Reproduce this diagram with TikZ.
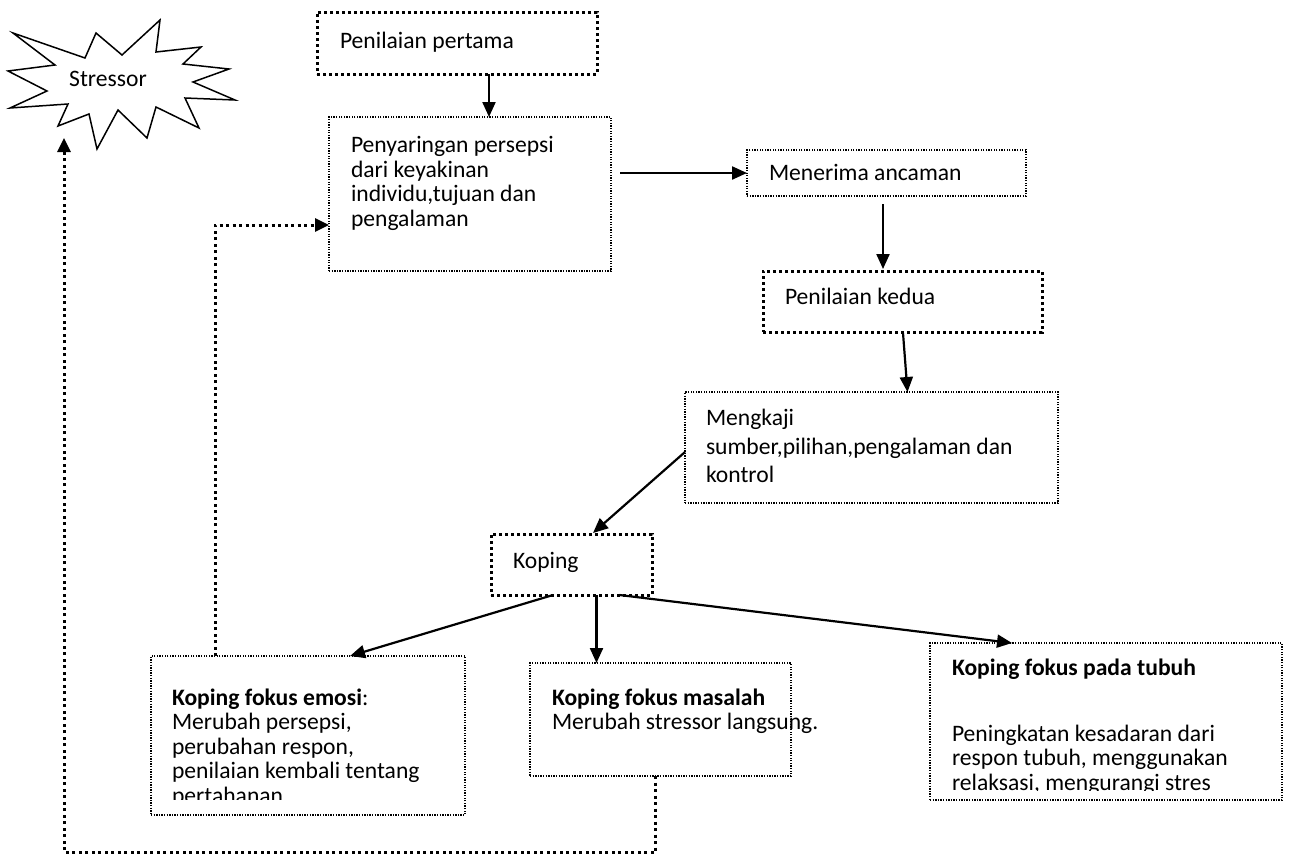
\documentclass[tikz,border=0pt]{standalone}
\usepackage{fontspec}
\setmainfont{Carlito}
\usetikzlibrary{arrows.meta,calc}
\newcommand\boxfont{\fontsize{23.6pt}{24.5pt}\selectfont}
\newcommand\firstline{\rule{0pt}{20pt}}
\begin{document}
\begin{tikzpicture}[x=1pt,y=-1pt,
  every node/.style={inner sep=0pt, outer sep=0pt},
  thinbox/.style={draw, line width=1.3pt, dash pattern=on 1.3pt off 1.3pt, anchor=north west},
  thickbox/.style={draw, line width=3pt, dash pattern=on 3.3pt off 2.7pt, anchor=north west},
  boxtext/.style={anchor=north west, align=left, font=\boxfont},
  link/.style={line width=2.2pt, -{Triangle[length=15pt,width=13pt]}},
  backlink/.style={line width=3pt, dash pattern=on 3pt off 3.5pt, -{Triangle[length=14pt,width=13pt]}},
]
\useasboundingbox (0,0) rectangle (1292,857);

% stressor burst
\draw[line width=1.5pt, line join=miter]
  (13,33) -- (85,58) -- (96,33) -- (122,55) -- (160,20) -- (156,52) -- (201,47)
  -- (183,64) -- (229,69) -- (193,82) -- (235,100) -- (185,98) -- (199,128)
  -- (156,107) -- (147,138) -- (118,110) -- (97,149) -- (89,114) -- (58,126)
  -- (68,104) -- (10,108) -- (47,91) -- (8,71) -- (55,65) -- cycle;
\node[font=\boxfont, anchor=base] (stressor) at (108,86) {Stressor};
\coordinate (stip) at (64,138);

% boxes
\node[thickbox, minimum width=280pt, minimum height=62pt]  (first)  at (317,12)  {};
\node[thinbox,  minimum width=282pt, minimum height=154pt] (filter) at (329,117) {};
\node[thinbox,  minimum width=279pt, minimum height=46pt]  (threat) at (747,150) {};
\node[thickbox, minimum width=279pt, minimum height=61pt]  (second) at (763,271) {};
\node[thinbox,  minimum width=373pt, minimum height=111pt] (assess) at (685,392) {};
\node[thickbox, minimum width=161pt, minimum height=61pt]  (coping) at (491,534) {};
\node[thinbox,  minimum width=314pt, minimum height=159pt] (emo)    at (151,656) {};
\node[thinbox,  minimum width=261pt, minimum height=113pt] (mas)    at (530,663) {};
\node[thinbox,  minimum width=352pt, minimum height=157pt] (body)   at (930,643) {};

% texts
\node[boxtext] (tfirst)  at (340,28.5)  {\firstline Penilaian pertama};
\node[boxtext] (tfilter) at (351,132.5) {\firstline Penyaringan persepsi\\dari keyakinan\\individu,tujuan dan\\pengalaman};
\node[boxtext] (tthreat) at (769,160.5) {\firstline Menerima ancaman};
\node[boxtext] (tsecond) at (785,284.5) {\firstline Penilaian kedua};
\node[boxtext, font=\fontsize{23.6pt}{28.5pt}\selectfont] (tassess) at (706,405.5)
  {\firstline Mengkaji\\sumber,pilihan,pengalaman dan\\kontrol};
\node[boxtext] (tcoping) at (513,548) {\firstline Koping};
\begin{scope}
  \clip (151,656) rectangle (465,799);
  \node[boxtext] (temo) at (172,685) {\firstline\textbf{Koping fokus emosi}:\\Merubah persepsi,\\perubahan respon,\\penilaian kembali tentang\\pertahanan.};
\end{scope}
\node[boxtext] (tmas) at (552,685) {\firstline\textbf{Koping fokus masalah}\\Merubah stressor langsung.};
\begin{scope}
  \clip (930,643) rectangle (1282,790);
  \node[boxtext] (tbody) at (952,655.5) {\firstline\textbf{Koping fokus pada tubuh}\\[41pt]Peningkatan kesadaran dari\\respon tubuh, menggunakan\\relaksasi, mengurangi stres};
\end{scope}

% flow arrows
\draw[link] ($(first.south)+(32,0)$) -- ($(filter.north)+(19,0)$);
\draw[link] ($(filter.east)+(9,-21)$) -- (threat.west);
\draw[link] ($(threat.south)+(-3.5,8)$) -- ($(second.north)+(-19.5,-2)$);
\draw[link] ($(second.south)+(0.5,1)$) -- ($(assess.north)+(36,0)$);
\draw[link] ($(assess.west)+(0,4.5)$) -- ($(coping.north)+(21.5,-1)$);
\draw[link] ($(coping.south)+(-18.5,0)$) -- ($(emo.north)+(42,0)$);
\draw[link] ($(coping.south)+(25,0)$) -- ($(mas.north)+(-64,0)$);
\draw[link] ($(coping.south)+(48,0)$) -- ($(body.north)+(-94,0)$);

% feedback loops
\draw[backlink] ($(emo.north)+(-93,0)$) |- ($(filter.west)+(0,31)$);
\draw[backlink] ($(mas.south)+(-5,0)$) -- ++(0,76) -| (stip);
\end{tikzpicture}
\end{document}
